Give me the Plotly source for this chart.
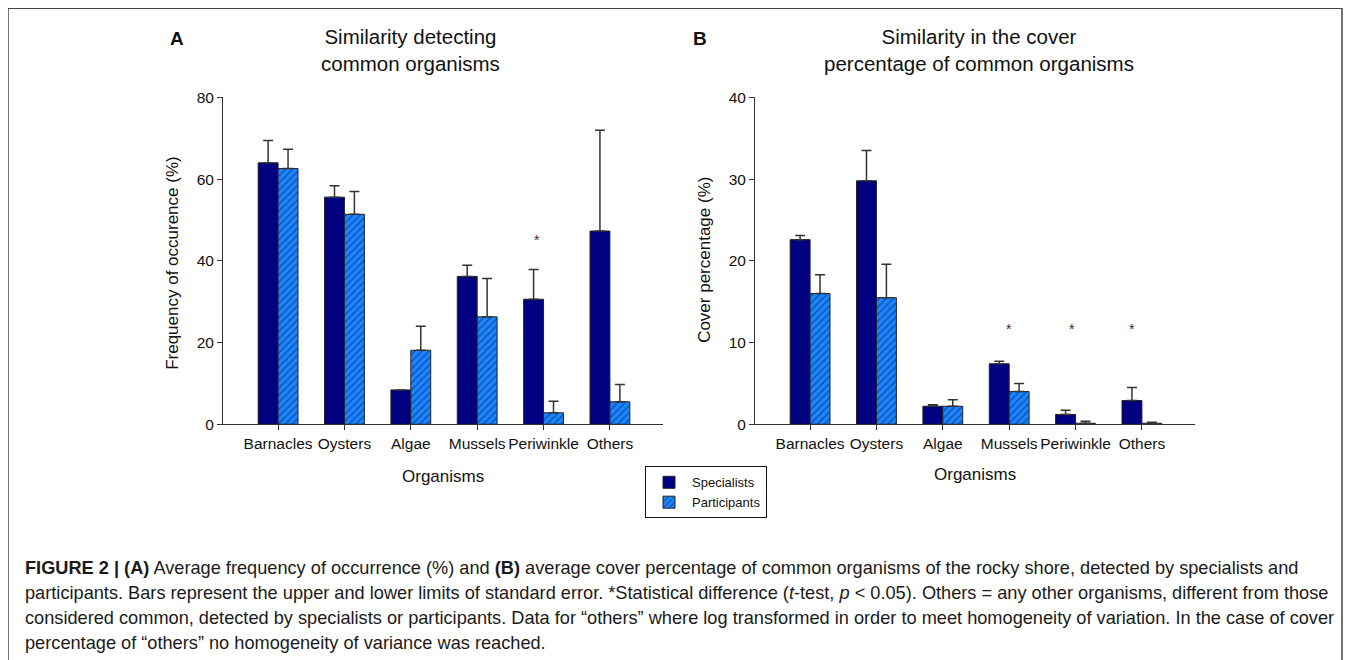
import plotly.graph_objects as go

# ---------------- data ----------------
categories = ["Barnacles", "Oysters", "Algae", "Mussels", "Periwinkle", "Others"]

freq_spec = [64.0, 55.6, 8.4, 36.2, 30.6, 47.3]
freq_spec_upper = [69.5, 58.4, 8.4, 38.9, 37.9, 72.0]
freq_part = [62.6, 51.4, 18.1, 26.3, 2.8, 5.5]
freq_part_upper = [67.3, 57.0, 24.0, 35.7, 5.6, 9.7]

cover_spec = [22.6, 29.8, 2.2, 7.4, 1.2, 2.9]
cover_spec_upper = [23.1, 33.5, 2.4, 7.7, 1.7, 4.5]
cover_part = [16.0, 15.5, 2.2, 4.0, 0.12, 0.12]
cover_part_upper = [18.3, 19.6, 3.0, 5.0, 0.37, 0.25]

freq_sig_cats = ["Periwinkle"]
freq_sig_y = [45]
cover_sig_cats = ["Mussels", "Periwinkle", "Others"]
cover_sig_y = [11.7, 11.7, 11.7]

freq_ticks = [0, 20, 40, 60, 80]
cover_ticks = [0, 10, 20, 30, 40]

caption_lines = [
    "<b>FIGURE 2 | (A)</b> Average frequency of occurrence (%) and <b>(B)</b> average cover percentage of common organisms of the rocky shore, detected by specialists and",
    "participants. Bars represent the upper and lower limits of standard error. *Statistical difference (<i>t</i>-test, <i>p</i> &lt; 0.05). Others = any other organisms, different from those",
    "considered common, detected by specialists or participants. Data for \u201cothers\u201d where log transformed in order to meet homogeneity of variation. In the case of cover",
    "percentage of \u201cothers\u201d no homogeneity of variance was reached.",
]

# ---------------- styling ----------------
W, H = 1358, 660
SPEC_COLOR = "#000080"
PART_COLOR = "#1a86ff"
HATCH_COLOR = "#0b1f66"
FONT = "Liberation Sans, Arial, sans-serif"
AX = "#333333"

# empirical page offset / vertical scale of the rendered figure
OX, OY, SY = 8.0, 17.7, 0.972


def px_x(p):
    return (p - OX) / W


def px_y(p):
    return 1 - ((p - OY) / SY) / H


def diffs(upper, vals):
    return [max(u - v, 0) for u, v in zip(upper, vals)]


fig = go.Figure()

panels = [
    ("x", "y", freq_spec, freq_spec_upper, freq_part, freq_part_upper, True),
    ("x2", "y2", cover_spec, cover_spec_upper, cover_part, cover_part_upper, False),
]
for xa, ya, sv, su, pv, pu, show in panels:
    fig.add_trace(go.Bar(
        x=categories, y=sv, name="Specialists", xaxis=xa, yaxis=ya,
        marker=dict(color=SPEC_COLOR, line=dict(color="#222222", width=1)),
        error_y=dict(type="data", symmetric=False, array=diffs(su, sv),
                     arrayminus=[0] * len(sv), color=AX, thickness=1.5, width=5),
        legendgroup="spec", showlegend=show,
    ))
    fig.add_trace(go.Bar(
        x=categories, y=pv, name="Participants", xaxis=xa, yaxis=ya,
        marker=dict(color=PART_COLOR, line=dict(color="#222222", width=1),
                    pattern=dict(shape="/", fgcolor=HATCH_COLOR, bgcolor=PART_COLOR,
                                 size=5, solidity=0.3)),
        error_y=dict(type="data", symmetric=False, array=diffs(pu, pv),
                     arrayminus=[0] * len(pv), color=AX, thickness=1.5, width=5),
        legendgroup="part", showlegend=show,
    ))

xcommon = dict(type="category", range=[-0.83, 5.8], showline=True, linecolor=AX,
               linewidth=1, ticks="outside", ticklen=5, tickcolor=AX,
               tickfont=dict(family=FONT, size=15.5, color="#111"),
               showgrid=False, zeroline=False, fixedrange=True)
ycommon = dict(showline=True, linecolor=AX, linewidth=1, ticks="outside", ticklen=5,
               tickcolor=AX, tickfont=dict(family=FONT, size=15.5, color="#111"),
               showgrid=False, zeroline=False, fixedrange=True)

ydom = [px_y(424), px_y(98)]
fig.update_layout(
    xaxis=dict(domain=[px_x(223), px_x(663)], anchor="y", **xcommon),
    yaxis=dict(domain=ydom, anchor="x", range=[0, 80], tickvals=freq_ticks, **ycommon),
    xaxis2=dict(domain=[px_x(755), px_x(1195)], anchor="y2", **xcommon),
    yaxis2=dict(domain=ydom, anchor="x2", range=[0, 40], tickvals=cover_ticks, **ycommon),
    barmode="group", bargap=0.4, bargroupgap=0,
    width=W, height=H, margin=dict(l=0, r=0, t=0, b=0),
    paper_bgcolor="white", plot_bgcolor="white",
    font=dict(family=FONT, color="#111"),
    legend=dict(x=px_x(645), y=px_y(466), xanchor="left", yanchor="top",
                bordercolor="#111", borderwidth=1, bgcolor="white",
                font=dict(family=FONT, size=13, color="#111"),
                tracegroupgap=0, itemwidth=36),
    showlegend=True,
)

ann = []


def text(x, y, s, size, bold=False, angle=0, xanchor="center", family=FONT, color="#111"):
    ann.append(dict(x=px_x(x), y=px_y(y), xref="paper", yref="paper", text=s,
                    showarrow=False, textangle=angle, xanchor=xanchor, yanchor="middle",
                    font=dict(family=family, size=size, color=color)))


text(177, 39, "<b>A</b>", 19)
text(700, 39, "<b>B</b>", 19)
text(410, 51, "Similarity detecting<br>common organisms", 20.5)
text(979, 51, "Similarity in the cover<br>percentage of common organisms", 20.5)
text(173, 263, "Frequency of occurence (%)", 17, angle=-90)
text(705, 260, "Cover percentage (%)", 17, angle=-90)
text(443, 476, "Organisms", 17)
text(975, 474, "Organisms", 17)

STAR = "#4a2424"
for c, yv in zip(freq_sig_cats, freq_sig_y):
    ann.append(dict(x=c, y=yv, xref="x", yref="y", text="*", showarrow=False,
                    xshift=-7, font=dict(family=FONT, size=14, color=STAR)))
for c, yv, xs in zip(cover_sig_cats, cover_sig_y, [0, -4, -10]):
    ann.append(dict(x=c, y=yv, xref="x2", yref="y2", text="*", showarrow=False,
                    xshift=xs, font=dict(family=FONT, size=14, color=STAR)))

for i, line in enumerate(caption_lines):
    text(23, 567 + i * 25, line, 18.2, xanchor="left", family=FONT, color="#1a1a1a")

fig.update_layout(annotations=ann)

fig.add_shape(type="rect", xref="paper", yref="paper",
              x0=px_x(8), x1=px_x(1342), y0=px_y(700), y1=px_y(9),
              line=dict(color="#444", width=1.5), fillcolor="rgba(0,0,0,0)", layer="above")

fig.write_html("out.html")
